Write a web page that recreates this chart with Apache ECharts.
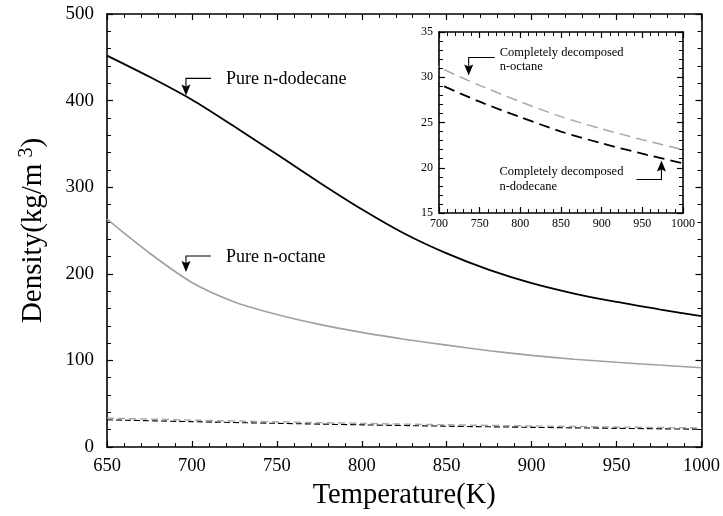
<!DOCTYPE html>
<html>
<head>
<meta charset="utf-8">
<script src="https://cdn.jsdelivr.net/npm/echarts@6/dist/echarts.min.js"></script>
<style>
html,body{margin:0;padding:0;background:#fff;}
#c{width:723px;height:516px;}
</style>
</head>
<body>
<div id="c"></div>
<script>
// ---- data ----
var temps = [650, 675, 700, 725, 750, 775, 800, 825, 850, 875, 900, 925, 950, 975, 1000];
var pureDodecane = [452, 427.5, 401, 370, 338, 305.5, 274.5, 246.5, 223.5, 204.5, 189.2, 177.2, 167.5, 159, 151];
var pureOctane = [263, 224, 190, 167.5, 153, 141.6, 132.4, 124.5, 117.6, 111.2, 105.8, 101.4, 97.8, 94.6, 91.6];
var decompTemps = [650, 700, 750, 800, 850, 900, 950, 1000];
var decompOctane = [33.3, 31.1, 29.1, 27.3, 25.65, 24.3, 23.1, 22.0];
var decompDodecane = [31.4, 29.25, 27.3, 25.6, 24.0, 22.7, 21.55, 20.5];
var mainXTicks = [650, 1000, 50];
var mainYTicks = [0, 500, 100];
var insetXTicks = [700, 1000, 50];
var insetYTicks = [15, 35, 5];
var labels = {
  dodecane: 'Pure n-dodecane',
  octane: 'Pure n-octane',
  decOctane: 'Completely decomposed\nn-octane',
  decDodecane: 'Completely decomposed\nn-dodecane'
};

function pairs(xs, ys) { return xs.map(function (x, i) { return [x, ys[i]]; }); }
function plain(v) { return String(v); }

var FONT = '"Liberation Serif", "Times New Roman", serif';

function mkX(grid, ticks, pos, showLabel, fs, extra) {
  var a = {
    type: 'value', gridIndex: grid, position: pos,
    min: ticks[0], max: ticks[1], interval: ticks[2],
    axisLine: { show: true, onZero: false, lineStyle: { color: '#000', width: 1.6 } },
    axisTick: { show: true, inside: true, length: 6, lineStyle: { color: '#000', width: 1.2 } },
    minorTick: { show: true, splitNumber: 5, length: 4, lineStyle: { color: '#000', width: 1 } },
    splitLine: { show: false },
    axisLabel: { show: showLabel, color: '#000', fontFamily: FONT, fontSize: fs, margin: grid === 0 ? 10 : 5, formatter: plain }
  };
  for (var k in extra) a[k] = extra[k];
  return a;
}
function mkY(grid, ticks, pos, showLabel, fs, split, extra) {
  var a = {
    type: 'value', gridIndex: grid, position: pos,
    min: ticks[0], max: ticks[1], interval: ticks[2],
    axisLine: { show: true, onZero: false, lineStyle: { color: '#000', width: 1.6 } },
    axisTick: { show: true, inside: true, length: 6, lineStyle: { color: '#000', width: 1.2 } },
    minorTick: { show: true, splitNumber: split, length: 4, lineStyle: { color: '#000', width: 1 } },
    splitLine: { show: false },
    axisLabel: { show: showLabel, color: '#000', fontFamily: FONT, fontSize: fs, margin: grid === 0 ? 13 : 6, formatter: plain }
  };
  for (var k in extra) a[k] = extra[k];
  return a;
}

var chart = echarts.init(document.getElementById('c'));
chart.setOption({
  animation: false,
  backgroundColor: '#fff',
  grid: [
    { left: 107, top: 14, right: 15, bottom: 69 },
    { left: 439, top: 32, width: 244, height: 181, show: true, backgroundColor: '#fff', borderWidth: 0, z: 5 }
  ],
  xAxis: [
    mkX(0, mainXTicks, 'bottom', true, 18.5, {
      name: 'Temperature(K)', nameLocation: 'middle', nameGap: 34,
      nameTextStyle: { color: '#000', fontFamily: FONT, fontSize: 28.5 }
    }),
    mkX(0, mainXTicks, 'top', false, 18, {}),
    mkX(1, insetXTicks, 'bottom', true, 12, { z: 6 }),
    mkX(1, insetXTicks, 'top', false, 12, { z: 6 })
  ],
  yAxis: [
    mkY(0, mainYTicks, 'left', true, 19, 5, {
      name: '{a|Density(kg/m}{s|3}{a|)}', nameLocation: 'middle', nameGap: 58, nameRotate: 90,
      nameTextStyle: {
        color: '#000', fontFamily: FONT,
        rich: {
          a: { fontSize: 29, fontFamily: FONT, color: '#000', lineHeight: 32 },
          s: { fontSize: 20, fontFamily: FONT, color: '#000', verticalAlign: 'top', lineHeight: 32, padding: [0, 0, 2, 6] }
        }
      }
    }),
    mkY(0, mainYTicks, 'right', false, 19, 5, {}),
    mkY(1, insetYTicks, 'left', true, 12, 5, { z: 6 }),
    mkY(1, insetYTicks, 'right', false, 12, 5, { z: 6 })
  ],
  series: [
    { type: 'line', xAxisIndex: 0, yAxisIndex: 0, data: pairs(decompTemps, decompOctane), smooth: 0.3, showSymbol: false,
      lineStyle: { color: '#a8a8a8', width: 1.4, type: [7, 4] }, z: 2 },
    { type: 'line', xAxisIndex: 0, yAxisIndex: 0, data: pairs(decompTemps, decompDodecane), smooth: 0.3, showSymbol: false,
      lineStyle: { color: '#000', width: 1.1, type: [6, 3] }, z: 2 },
    { type: 'line', xAxisIndex: 0, yAxisIndex: 0, data: pairs(temps, pureDodecane), smooth: 0.3, showSymbol: false,
      lineStyle: { color: '#000', width: 1.8 }, z: 2 },
    { type: 'line', xAxisIndex: 0, yAxisIndex: 0, data: pairs(temps, pureOctane), smooth: 0.3, showSymbol: false,
      lineStyle: { color: '#a0a0a0', width: 1.6 }, z: 2 },
    { type: 'line', xAxisIndex: 2, yAxisIndex: 2, data: pairs(decompTemps, decompOctane), smooth: 0.3, showSymbol: false,
      lineStyle: { color: '#a8a8a8', width: 1.5, type: [11, 6] }, z: 7 },
    { type: 'line', xAxisIndex: 2, yAxisIndex: 2, data: pairs(decompTemps, decompDodecane), smooth: 0.3, showSymbol: false,
      lineStyle: { color: '#000', width: 1.8, type: [11, 6] }, z: 7 }
  ]
});

// ---- annotations (anchored by data coordinates) ----
function px(ax, pt) { return chart.convertToPixel({ xAxisIndex: ax, yAxisIndex: ax }, pt); }
var els = [];
function arrow(tip, dirDown, rise, run, lw) {
  var sign = dirDown ? -1 : 1;
  var bend = [tip[0], tip[1] + sign * rise];
  var end = [tip[0] + run, bend[1]];
  var hh = 9, hw = 4.5;
  var base = tip[1] + sign * hh;
  els.push({ type: 'polyline', z: 100, shape: { points: [end, bend, [tip[0], base]] },
    style: { stroke: '#000', lineWidth: lw, fill: null } });
  els.push({ type: 'polygon', z: 100, shape: { points: [[tip[0] - hw, base + sign * 2], tip, [tip[0] + hw, base + sign * 2], [tip[0], base]] },
    style: { fill: '#000', stroke: null } });
  return end;
}
function label(x, y, txt, fs, lh) {
  els.push({ type: 'text', z: 100, style: { text: txt, x: x, y: y, fill: '#000', font: fs + 'px ' + FONT,
    textAlign: 'left', align: 'left', textVerticalAlign: 'top', verticalAlign: 'top', lineHeight: lh } });
}

var t1 = px(0, [696.5, 406]);
var e1 = arrow(t1, true, 17, 25, 1.1);
label(e1[0] + 15, e1[1] - 9, labels.dodecane, 18, 20);

var t2 = px(0, [696.5, 202]);
var e2 = arrow(t2, true, 16, 25, 1.1);
label(e2[0] + 15, e2[1] - 9, labels.octane, 18, 20);

var t3 = px(2, [736.5, 30.2]);
var e3 = arrow(t3, true, 18, 26, 1.1);
label(e3[0] + 5, e3[1] - 12, labels.decOctane, 12.5, 14);

var t4 = px(2, [973.5, 20.8]);
var e4 = arrow(t4, false, 19, -25, 1.1);
label(t4[0] - 162, e4[1] - 15, labels.decDodecane, 12.5, 15);

chart.setOption({ graphic: els });
</script>
</body>
</html>
